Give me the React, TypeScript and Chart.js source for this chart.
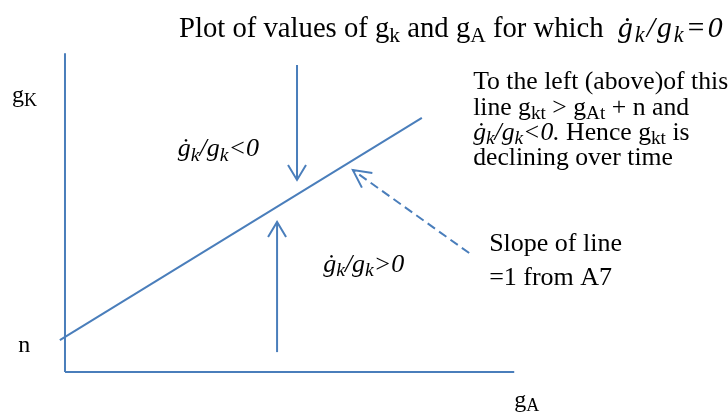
import { useEffect, useRef } from "react";
import { Chart, registerables } from "chart.js";

Chart.register(...registerables);

const BLUE = "#4a7ebb";
const SERIF = '"Liberation Serif", "Times New Roman", serif';
const SUB_SCALE = 0.75;

// Line along which ġk/gk = 0:  gK = n + slope · gA
const n = 1;
const slope = 1;
const lineGA = [-0.09, 6.26];

// Axis lengths
const gAAxisEnd = 7.88;
const gKAxisEnd = 9.11;

// Vertical arrows pointing towards the line (gA position, gK from → to)
const downArrowGA = 4.07;
const downArrowGK = [8.77, 5.49];
const upArrowGA = 3.72;
const upArrowGK = [0.57, 4.29];

// Dashed pointer from the slope note to the line (gA, gK pairs: from → to)
const pointerGA = [7.09, 5.05];
const pointerGK = [3.4, 5.77];

// Visible window of the diagram
const xRange = [-1.14, 11.63];
const yRange = [-1.37, 10.63];

type Run = { t: string; sub?: boolean; it?: boolean };

const growthRatio = (rel: string): Run[] => [
  { t: "ġ", it: true },
  { t: "k", sub: true, it: true },
  { t: "/g", it: true },
  { t: "k", sub: true, it: true },
  { t: rel, it: true },
];

type Label = { runs: Run[]; gA: number; gK: number; size: number; mathSize?: number; mathSpacing?: number };

const labels: Label[] = [
  {
    runs: [
      { t: "Plot of values of g" },
      { t: "k", sub: true },
      { t: " and g" },
      { t: "A", sub: true },
      { t: " for which  " },
      ...growthRatio("=0"),
    ],
    gA: 2.0,
    gK: 9.571,
    size: 28.7,
    mathSize: 29.7,
    mathSpacing: 2,
  },
  { runs: [{ t: "g" }, { t: "K", sub: true }], gA: -0.93, gK: 7.71, size: 24 },
  { runs: [{ t: "n" }], gA: -0.82, gK: 0.57, size: 24 },
  { runs: [{ t: "g" }, { t: "A", sub: true }], gA: 7.88, gK: -1.0, size: 24 },
  { runs: growthRatio("<0"), gA: 1.98, gK: 6.17, size: 26 },
  { runs: growthRatio(">0"), gA: 4.53, gK: 2.857, size: 26 },
  { runs: [{ t: "To the left (above)of this" }], gA: 7.16, gK: 8.086, size: 25.7 },
  {
    runs: [
      { t: "line g" },
      { t: "kt", sub: true },
      { t: " > g" },
      { t: "At", sub: true },
      { t: " + n and" },
    ],
    gA: 7.16,
    gK: 7.343,
    size: 25.7,
  },
  {
    runs: [...growthRatio("<0."), { t: " Hence g" }, { t: "kt", sub: true }, { t: " is" }],
    gA: 7.16,
    gK: 6.629,
    size: 25.7,
  },
  { runs: [{ t: "declining over time" }], gA: 7.16, gK: 5.914, size: 25.7 },
  { runs: [{ t: "Slope of line" }], gA: 7.44, gK: 3.457, size: 26 },
  { runs: [{ t: "=1 from A7" }], gA: 7.44, gK: 2.486, size: 26 },
];

const drawRuns = (ctx: CanvasRenderingContext2D, l: Label, x: number, y: number) => {
  let cx = x;
  for (const r of l.runs) {
    const base = r.it && l.mathSize ? l.mathSize : l.size;
    const s = r.sub ? base * SUB_SCALE : base;
    ctx.font = `${r.it ? "italic " : ""}${s}px ${SERIF}`;
    const spacing = r.it && l.mathSpacing ? l.mathSpacing : 0;
    (ctx as any).letterSpacing = `${spacing}px`;
    ctx.fillText(r.t, cx, r.sub ? y + base * 0.17 : y);
    cx += ctx.measureText(r.t).width;
  }
  (ctx as any).letterSpacing = "0px";
};

const arrowHead = (
  ctx: CanvasRenderingContext2D,
  fx: number,
  fy: number,
  tx: number,
  ty: number,
  len: number,
  half: number
) => {
  const dx = tx - fx;
  const dy = ty - fy;
  const d = Math.hypot(dx, dy) || 1;
  const ux = dx / d;
  const uy = dy / d;
  const bx = tx - ux * len;
  const by = ty - uy * len;
  ctx.beginPath();
  ctx.moveTo(bx - uy * half, by + ux * half);
  ctx.lineTo(tx, ty);
  ctx.lineTo(bx + uy * half, by - ux * half);
  ctx.stroke();
};

const ARROW_SETS = [3, 4, 5];

const annotations = {
  id: "annotations",
  afterDatasetsDraw(chart: Chart) {
    const ctx = chart.ctx;
    const xs = chart.scales.x;
    const ys = chart.scales.y;
    ctx.save();
    ctx.strokeStyle = BLUE;
    ctx.lineWidth = 2;
    ctx.setLineDash([]);
    ctx.lineCap = "butt";
    for (const i of ARROW_SETS) {
      const pts = chart.getDatasetMeta(i).data as any[];
      const a = pts[pts.length - 2];
      const b = pts[pts.length - 1];
      arrowHead(ctx, a.x, a.y, b.x, b.y, i === 5 ? 17.5 : 15, 9);
    }
    ctx.fillStyle = "#000";
    ctx.textBaseline = "alphabetic";
    ctx.textAlign = "left";
    for (const l of labels) {
      drawRuns(ctx, l, xs.getPixelForValue(l.gA), ys.getPixelForValue(l.gK));
    }
    ctx.restore();
  },
};

const seg = (xv: number[], yv: number[]) => xv.map((x, i) => ({ x, y: yv[i] }));

export default function App() {
  const ref = useRef<HTMLCanvasElement>(null);
  useEffect(() => {
    if (!ref.current) return;
    const line = (extra: object = {}) => ({
      showLine: true,
      borderColor: BLUE,
      borderWidth: 2,
      pointRadius: 0,
      fill: false,
      ...extra,
    });
    const chart = new Chart(ref.current, {
      type: "scatter",
      data: {
        datasets: [
          { data: seg([0, 0], [0, gKAxisEnd]), ...line() },
          { data: seg([0, gAAxisEnd], [0, 0]), ...line() },
          { data: seg(lineGA, lineGA.map((g) => n + slope * g)), ...line() },
          { data: seg([downArrowGA, downArrowGA], downArrowGK), ...line() },
          { data: seg([upArrowGA, upArrowGA], upArrowGK), ...line() },
          { data: seg(pointerGA, pointerGK), ...line({ borderDash: [9, 5] }) },
        ] as any,
      },
      options: {
        animation: false,
        responsive: false,
        events: [],
        layout: { padding: 0 },
        plugins: { legend: { display: false }, tooltip: { enabled: false }, title: { display: false } },
        scales: {
          x: { type: "linear", min: xRange[0], max: xRange[1], display: false },
          y: { type: "linear", min: yRange[0], max: yRange[1], display: false },
        },
      },
      plugins: [annotations],
    });
    return () => chart.destroy();
  }, []);
  return (
    <div style={{ position: "fixed", left: 0, top: 0, width: 728, height: 420, background: "#fff" }}>
      <canvas ref={ref} width={728} height={420} />
    </div>
  );
}
